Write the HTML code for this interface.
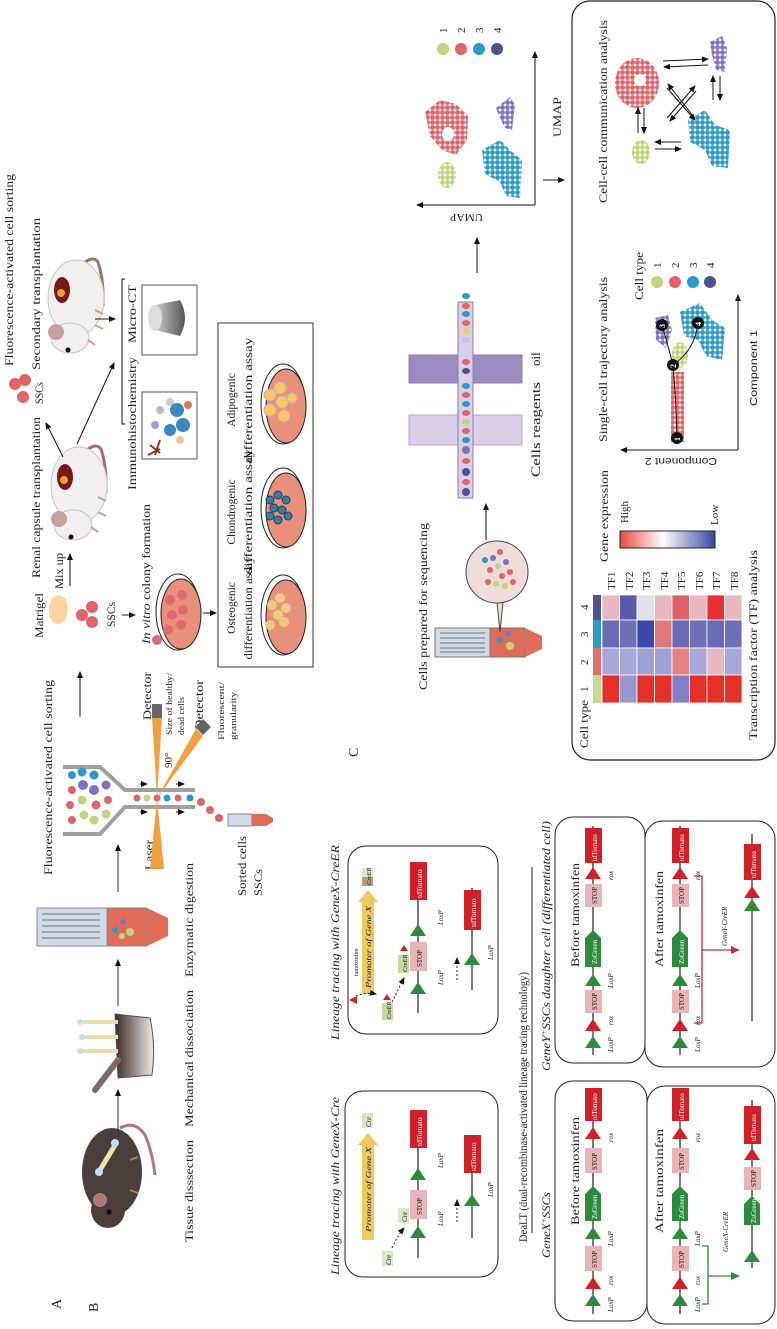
<!DOCTYPE html>
<html><head><meta charset="utf-8"><style>
html,body{margin:0;padding:0;background:#fff;}
svg{display:block;}
text{font-family:"Liberation Serif",serif;fill:#222;}
.s{font-family:"Liberation Sans",sans-serif;}
.i{font-style:italic;}
</style></head><body>
<svg width="777" height="1329" viewBox="0 0 777 1329" xmlns="http://www.w3.org/2000/svg">
<defs>
<marker id="ah" markerWidth="8" markerHeight="8" refX="6" refY="3" orient="auto" markerUnits="userSpaceOnUse"><path d="M0,0 L7,3 L0,6 Z" fill="#111"/></marker>
<marker id="ahg" markerWidth="10" markerHeight="10" refX="7" refY="4" orient="auto" markerUnits="userSpaceOnUse"><path d="M0,0 L9,4 L0,8 Z" fill="#2e8b3e"/></marker>
<marker id="ahr" markerWidth="10" markerHeight="10" refX="7" refY="4" orient="auto" markerUnits="userSpaceOnUse"><path d="M0,0 L9,4 L0,8 Z" fill="#c0303a"/></marker>
<pattern id="pr" width="5" height="5" patternUnits="userSpaceOnUse"><circle cx="2.5" cy="2.5" r="2.4" fill="#e0646a"/></pattern>
<pattern id="pb" width="5" height="5" patternUnits="userSpaceOnUse"><circle cx="2.5" cy="2.5" r="2.4" fill="#2c9ac8"/></pattern>
<pattern id="pp" width="5" height="5" patternUnits="userSpaceOnUse"><circle cx="2.5" cy="2.5" r="2.4" fill="#8070c0"/></pattern>
<pattern id="pg" width="5" height="5" patternUnits="userSpaceOnUse"><circle cx="2.5" cy="2.5" r="2.4" fill="#c2d47e"/></pattern>
<linearGradient id="cb" x1="0" x2="1" y1="0" y2="0"><stop offset="0" stop-color="#e84a3a"/><stop offset="0.45" stop-color="#fff"/><stop offset="1" stop-color="#3a48a0"/></linearGradient>
<linearGradient id="pot" x1="0" x2="1"><stop offset="0" stop-color="#3a2a26"/><stop offset="1" stop-color="#efeaea"/></linearGradient>
<linearGradient id="cyl" x1="0" x2="1"><stop offset="0" stop-color="#ccc"/><stop offset="1" stop-color="#555"/></linearGradient>
</defs>

<!-- ============ PANEL A ============ -->
<text transform="translate(61,1309) rotate(-90)" font-size="14">A</text>
<text transform="translate(13,366) rotate(-90)" font-size="12" textLength="192" lengthAdjust="spacingAndGlyphs">Fluorescence-activated cell sorting</text>
<text transform="translate(40,370) rotate(-90)" font-size="12" textLength="152" lengthAdjust="spacingAndGlyphs">Secondary transplantation</text>
<text transform="translate(43,404) rotate(-90)" font-size="12" textLength="22" lengthAdjust="spacingAndGlyphs">SSCs</text>
<text transform="translate(40,578) rotate(-90)" font-size="12" textLength="161" lengthAdjust="spacingAndGlyphs">Renal capsule transplantation</text>
<text transform="translate(43,638) rotate(-90)" font-size="12" textLength="45" lengthAdjust="spacingAndGlyphs">Matrigel</text>
<text transform="translate(63,589) rotate(-90)" font-size="12" textLength="36" lengthAdjust="spacingAndGlyphs">Mix up</text>
<text transform="translate(115,627) rotate(-90)" font-size="12" textLength="25" lengthAdjust="spacingAndGlyphs">SSCs</text>
<text transform="translate(150,644) rotate(-90)" font-size="12" textLength="140" lengthAdjust="spacingAndGlyphs"><tspan class="i">In vitro</tspan> colony formation</text>
<text transform="translate(136,490) rotate(-90)" font-size="12" textLength="133" lengthAdjust="spacingAndGlyphs">Immunohistochemistry</text>
<text transform="translate(136,343) rotate(-90)" font-size="12" textLength="58" lengthAdjust="spacingAndGlyphs">Micro-CT</text>

<!-- SSC cells top -->
<circle cx="15" cy="384" r="6" fill="#e0646a"/><circle cx="25" cy="380" r="6" fill="#e0646a"/><circle cx="23" cy="397" r="6" fill="#e0646a"/>
<!-- white mice -->
<g id="wm1">
<path d="M80,267 Q92,254 98,262 Q104,280 103,306" fill="none" stroke="#a07070" stroke-width="3"/>
<ellipse cx="76" cy="298" rx="28" ry="38" fill="#f1efef" stroke="#c8c4c4"/>
<ellipse cx="70" cy="338" rx="19" ry="15" fill="#f1efef" stroke="#c8c4c4"/>
<circle cx="56" cy="332" r="8" fill="#c9a0a0"/>
<circle cx="68" cy="350" r="2.5" fill="#111"/>
<ellipse cx="62" cy="290" rx="8" ry="13" fill="#7a1818"/><circle cx="61" cy="293" r="4" fill="#f0a030"/>
<path d="M95,310 l8,4 M95,325 l8,4 M88,340 l7,5" stroke="#c9a0a0" stroke-width="2"/>
</g>
<g transform="translate(3,187)">
<path d="M80,267 Q92,254 98,262 Q104,280 103,306" fill="none" stroke="#a07070" stroke-width="3"/>
<ellipse cx="76" cy="298" rx="28" ry="38" fill="#f1efef" stroke="#c8c4c4"/>
<ellipse cx="70" cy="338" rx="19" ry="15" fill="#f1efef" stroke="#c8c4c4"/>
<circle cx="56" cy="332" r="8" fill="#c9a0a0"/>
<circle cx="68" cy="350" r="2.5" fill="#111"/>
<ellipse cx="62" cy="290" rx="8" ry="13" fill="#7a1818"/><circle cx="61" cy="293" r="4" fill="#f0a030"/>
<path d="M95,310 l8,4 M95,325 l8,4 M88,340 l7,5" stroke="#c9a0a0" stroke-width="2"/>
</g>
<!-- arrows top panel A -->
<line x1="63" y1="457" x2="46" y2="423" stroke="#111" stroke-width="1" marker-end="url(#ah)"/>
<line x1="77" y1="444" x2="114" y2="363" stroke="#111" stroke-width="1" marker-end="url(#ah)"/>
<line x1="95" y1="319" x2="115" y2="319" stroke="#111" stroke-width="1" marker-end="url(#ah)"/>
<path d="M125,279 H122 V424 H125" fill="none" stroke="#111"/>
<line x1="70" y1="586" x2="70" y2="554" stroke="#111" marker-end="url(#ah)"/>
<line x1="122" y1="615" x2="135" y2="615" stroke="#111" marker-end="url(#ah)"/>
<line x1="203" y1="613" x2="216" y2="613" stroke="#111" marker-end="url(#ah)"/>
<line x1="80" y1="717" x2="80" y2="672" stroke="#111" marker-end="url(#ah)"/>
<!-- matrigel + SSCs -->
<path d="M52,598 Q60,592 66,600 Q70,610 65,620 Q58,628 51,620 Q46,610 52,598Z" fill="#f8d49e"/>
<circle cx="82" cy="615" r="6" fill="#e0646a"/><circle cx="92" cy="607" r="6" fill="#e0646a"/><circle cx="92" cy="622" r="6" fill="#e0646a"/>
<!-- IHC box -->
<rect x="142" y="392" width="55" height="67" fill="#fff" stroke="#555"/>
<circle cx="160" cy="410" r="4" fill="#bbb"/><circle cx="170" cy="402" r="4" fill="#ccc"/><circle cx="155" cy="425" r="4" fill="#9aa0d8"/>
<circle cx="177" cy="410" r="7" fill="#3a88c0"/><circle cx="183" cy="425" r="7" fill="#3a88c0"/><circle cx="170" cy="430" r="6" fill="#3a88c0"/>
<circle cx="188" cy="405" r="4" fill="#e07060"/><circle cx="180" cy="440" r="4" fill="#f0c890"/>
<path d="M150,445 l10,8 M148,455 l12,-6 M160,440 l-5,15" stroke="#8b3a20" stroke-width="2"/>
<!-- micro-CT -->
<rect x="142" y="285" width="55" height="70" fill="#fff" stroke="#555"/>
<path d="M155,305 L180,300 Q190,318 180,336 L155,330 Z" fill="url(#cyl)"/>
<ellipse cx="155" cy="318" rx="7" ry="13" fill="#ddd"/>
<!-- colony dish -->
<ellipse cx="178" cy="612" rx="22" ry="38" fill="#fff" stroke="#222"/>
<ellipse cx="181" cy="614" rx="20" ry="35" fill="#e8907a" stroke="#222"/>
<g fill="#e06a70"><circle cx="170" cy="600" r="5"/><circle cx="172" cy="615" r="5"/><circle cx="168" cy="630" r="5"/><circle cx="182" cy="595" r="5"/><circle cx="183" cy="610" r="5"/><circle cx="181" cy="625" r="5"/><circle cx="157" cy="640" r="5"/></g>
<!-- diff box -->
<rect x="218" y="323" width="95" height="344" fill="#fff" stroke="#333"/>
<text transform="translate(235,608) rotate(-90)" font-size="11.5" text-anchor="middle">Osteogenic</text>
<text transform="translate(252,608) rotate(-90)" font-size="11.5" text-anchor="middle" textLength="103" lengthAdjust="spacingAndGlyphs">differentiation assay</text>
<text transform="translate(235,512) rotate(-90)" font-size="11.5" text-anchor="middle">Chondrogenic</text>
<text transform="translate(252,512) rotate(-90)" font-size="11.5" text-anchor="middle" textLength="125" lengthAdjust="spacingAndGlyphs">differentiation assay</text>
<text transform="translate(235,400) rotate(-90)" font-size="11.5" text-anchor="middle">Adipogenic</text>
<text transform="translate(252,400) rotate(-90)" font-size="11.5" text-anchor="middle" textLength="125" lengthAdjust="spacingAndGlyphs">differentiation assay</text>
<g stroke="#222">
<ellipse cx="283" cy="615" rx="22" ry="40" fill="#fff"/><ellipse cx="286" cy="617" rx="20" ry="37" fill="#e8907a"/>
<ellipse cx="283" cy="508" rx="22" ry="40" fill="#fff"/><ellipse cx="286" cy="510" rx="20" ry="37" fill="#e8907a"/>
<ellipse cx="283" cy="404" rx="22" ry="40" fill="#fff"/><ellipse cx="286" cy="406" rx="20" ry="37" fill="#e8907a"/>
</g>
<g fill="#f0c880"><circle cx="272" cy="605" r="5"/><circle cx="280" cy="598" r="5"/><circle cx="278" cy="615" r="5"/><circle cx="286" cy="608" r="5"/><circle cx="270" cy="625" r="5"/><circle cx="284" cy="622" r="5"/></g>
<g fill="#3a7ab0" stroke="#244"><circle cx="270" cy="500" r="4"/><circle cx="278" cy="495" r="4"/><circle cx="286" cy="500" r="4"/><circle cx="274" cy="508" r="4"/><circle cx="282" cy="510" r="4"/><circle cx="270" cy="516" r="4"/><circle cx="278" cy="520" r="4"/><circle cx="288" cy="516" r="4"/></g>
<g fill="#f2c860" stroke="#e0a0c0"><circle cx="270" cy="395" r="6"/><circle cx="280" cy="388" r="6"/><circle cx="282" cy="402" r="6"/><circle cx="270" cy="410" r="6"/><circle cx="284" cy="416" r="6"/><circle cx="292" cy="398" r="5"/></g>

<!-- lower A -->
<text transform="translate(52,875) rotate(-90)" font-size="12" textLength="195" lengthAdjust="spacingAndGlyphs">Fluorescence-activated cell sorting</text>
<text transform="translate(193,1242) rotate(-90)" font-size="12" textLength="102" lengthAdjust="spacingAndGlyphs">Tissue disssection</text>
<text transform="translate(193,1127) rotate(-90)" font-size="12" textLength="137" lengthAdjust="spacingAndGlyphs">Mechanical dissociation</text>
<text transform="translate(193,977) rotate(-90)" font-size="12" textLength="114" lengthAdjust="spacingAndGlyphs">Enzymatic digestion</text>
<text transform="translate(153,870) rotate(-90)" font-size="12" textLength="30" lengthAdjust="spacingAndGlyphs">Laser</text>
<text transform="translate(151,720) rotate(-90)" font-size="12" textLength="48" lengthAdjust="spacingAndGlyphs">Detector</text>
<text transform="translate(203,730) rotate(-90)" font-size="12" textLength="50" lengthAdjust="spacingAndGlyphs">Detector</text>
<text transform="translate(172,735) rotate(-90)" font-size="8" textLength="62" lengthAdjust="spacingAndGlyphs">Size of healthy/</text>
<text transform="translate(184,735) rotate(-90)" font-size="8" textLength="38" lengthAdjust="spacingAndGlyphs">dead cells</text>
<text transform="translate(224,740) rotate(-90)" font-size="8" textLength="58" lengthAdjust="spacingAndGlyphs">Fluorescent/</text>
<text transform="translate(236,740) rotate(-90)" font-size="8" textLength="48" lengthAdjust="spacingAndGlyphs">granularity</text>
<text transform="translate(172,768) rotate(-90)" font-size="11">90°</text>
<text transform="translate(246,896) rotate(-90)" font-size="12" textLength="60" lengthAdjust="spacingAndGlyphs">Sorted cells</text>
<text transform="translate(262,896) rotate(-90)" font-size="12" textLength="27" lengthAdjust="spacingAndGlyphs">SSCs</text>
<!-- dark mouse -->
<path d="M120,1128 Q135,1120 145,1135 Q152,1150 155,1175" fill="none" stroke="#b07a7a" stroke-width="3"/>
<ellipse cx="112" cy="1172" rx="30" ry="44" fill="#4a3f3c"/>
<ellipse cx="108" cy="1210" rx="17" ry="18" fill="#4a3f3c"/>
<circle cx="100" cy="1200" r="7" fill="#b07a7a"/>
<circle cx="109" cy="1212" r="2.5" fill="#000"/>
<line x1="100" y1="1170" x2="115" y2="1145" stroke="#efe0b0" stroke-width="5"/>
<circle cx="115" cy="1143" r="4" fill="#bfe0f0"/><circle cx="99" cy="1172" r="4" fill="#bfe0f0"/>
<path d="M130,1160 l8,-3 M130,1190 l8,3" stroke="#b07a7a" stroke-width="2"/>
<line x1="118" y1="1137" x2="118" y2="1090" stroke="#333" marker-end="url(#ah)"/>
<!-- pot -->
<path d="M115,1014 L150,1018 Q156,1045 152,1075 L118,1078 Z" fill="url(#pot)" stroke="#555"/>
<path d="M118,1060 L95,1090" stroke="#7a6a68" stroke-width="6" stroke-linecap="round"/>
<g stroke="#ebdcae" stroke-width="4"><line x1="80" y1="1022" x2="118" y2="1022"/><line x1="82" y1="1037" x2="118" y2="1037"/><line x1="80" y1="1051" x2="118" y2="1051"/></g>
<g fill="#bfe0f0"><circle cx="80" cy="1022" r="3"/><circle cx="82" cy="1037" r="3"/><circle cx="80" cy="1051" r="3"/></g>
<line x1="118" y1="1006" x2="118" y2="960" stroke="#333" marker-end="url(#ah)"/>
<!-- tube -->
<rect x="37" y="908" width="70" height="38" fill="#cfdbe6" stroke="#888"/>
<rect x="107" y="908" width="40" height="38" fill="#e06c58" stroke="#888"/>
<path d="M147,908 L168,918 L168,936 L147,946 Z" fill="#e06c58"/>
<g stroke="#555" stroke-width="0.8"><line x1="42" y1="914" x2="100" y2="914"/><line x1="42" y1="920" x2="100" y2="920"/><line x1="42" y1="926" x2="100" y2="926"/><line x1="42" y1="932" x2="100" y2="932"/><line x1="42" y1="938" x2="100" y2="938"/></g>
<circle cx="115" cy="930" r="3" fill="#2c9ac8"/><circle cx="123" cy="922" r="3" fill="#8070c0"/><circle cx="130" cy="932" r="4" fill="#c2d47e"/><circle cx="122" cy="936" r="3" fill="#c2d47e"/>
<line x1="118" y1="892" x2="118" y2="845" stroke="#333" marker-end="url(#ah)"/>
<!-- FACS -->
<path d="M63,767 H100 L125,790 H195 M63,834 H100 L125,807 H195" fill="none" stroke="#a0a0a0" stroke-width="4"/>
<g>
<circle cx="72" cy="775" r="4" fill="#2c9ac8"/><circle cx="72" cy="790" r="4" fill="#e0646a"/><circle cx="70" cy="805" r="4" fill="#e0646a"/><circle cx="72" cy="820" r="4" fill="#e0646a"/>
<circle cx="82" cy="772" r="4.5" fill="#2c9ac8"/><circle cx="83" cy="785" r="5" fill="#8070c0"/><circle cx="82" cy="800" r="4.5" fill="#c2d47e"/><circle cx="84" cy="815" r="4.5" fill="#c2d47e"/>
<circle cx="94" cy="775" r="4.5" fill="#2c9ac8"/><circle cx="94" cy="790" r="5" fill="#8070c0"/><circle cx="96" cy="805" r="4.5" fill="#e0646a"/><circle cx="94" cy="820" r="4.5" fill="#c2d47e"/>
<circle cx="106" cy="785" r="4.5" fill="#8070c0"/><circle cx="108" cy="800" r="4" fill="#e0646a"/><circle cx="106" cy="814" r="4.5" fill="#c2d47e"/>
</g>
<g><circle cx="137" cy="798" r="3.5" fill="#e0646a"/><circle cx="147" cy="798" r="3.5" fill="#c2d47e"/><circle cx="157" cy="798" r="3.5" fill="#e0646a"/><circle cx="167" cy="798" r="3.5" fill="#2c9ac8"/><circle cx="178" cy="798" r="3.5" fill="#e0646a"/><circle cx="190" cy="798" r="3.5" fill="#2c9ac8"/></g>
<path d="M150,869 L164,869 L157,798 Z" fill="#f0a040"/>
<path d="M157,798 L152,717 L162,717 Z" fill="#f0a040"/>
<path d="M157,798 L196,729 L203,736 Z" fill="#f0a040"/>
<rect x="152" y="704" width="10" height="14" fill="#666"/>
<path d="M195,727 l8,-8 l8,8 l-8,8z" fill="#666"/>
<g stroke="#111" marker-end="url(#ah)"><line x1="140" y1="784" x2="147" y2="784"/><line x1="140" y1="812" x2="147" y2="812"/><line x1="176" y1="784" x2="184" y2="784"/><line x1="176" y1="812" x2="184" y2="812"/></g>
<circle cx="201" cy="802" r="4" fill="#e0646a"/><circle cx="210" cy="810" r="4" fill="#e0646a"/><circle cx="219" cy="818" r="4" fill="#e0646a"/>
<rect x="228" y="814" width="24" height="12" fill="#cfdbe6" stroke="#888"/><rect x="252" y="814" width="14" height="12" fill="#e06c58"/><path d="M266,814 L273,818 L273,822 L266,826Z" fill="#e06c58"/>

<!-- ============ PANEL B ============ -->
<text transform="translate(98,1312) rotate(-90)" font-size="14">B</text>
<text transform="translate(358,757) rotate(-90)" font-size="14">C</text>
<text class="i" transform="translate(339,1275) rotate(-90)" font-size="12" textLength="178" lengthAdjust="spacingAndGlyphs">Lineage tracing with GeneX-Cre</text>
<text class="i" transform="translate(339,1040) rotate(-90)" font-size="12" textLength="195" lengthAdjust="spacingAndGlyphs">Lineage tracing with GeneX-CreER</text>
<rect x="345" y="1091" width="153" height="186" rx="18" fill="none" stroke="#222"/>
<rect x="348" y="846" width="150" height="188" rx="18" fill="none" stroke="#222"/>
<!-- box1 -->
<path d="M362,1240 V1145 H358 L368,1133 L378,1145 H374 V1240 Z" fill="#f0c860"/>
<text class="i" transform="translate(371,1232) rotate(-90)" font-size="7" textLength="85" lengthAdjust="spacingAndGlyphs">Promoter of Gene X</text>
<rect x="362" y="1113" width="11" height="15" fill="#d8e8c8"/><text class="i" transform="translate(371,1127) rotate(-90)" font-size="7">Cre</text>
<rect x="382" y="1251" width="11" height="15" fill="#d8e8c8"/><text class="i" transform="translate(391,1265) rotate(-90)" font-size="7">Cre</text>
<rect x="398" y="1208" width="11" height="15" fill="#d8e8c8"/><text class="i" transform="translate(407,1222) rotate(-90)" font-size="7">Cre</text>
<path d="M392,1248 Q398,1235 404,1228" fill="none" stroke="#222" stroke-dasharray="2,2" marker-end="url(#ah)"/>
<line x1="418" y1="1258" x2="418" y2="1110" stroke="#333" stroke-width="1.3"/>
<path d="M410,1238 L426,1238 L418,1226Z M410,1180 L426,1180 L418,1168Z" fill="#2e8b3e"/>
<rect x="410" y="1190" width="17" height="29" fill="#e8b4b8"/><text transform="translate(422,1215) rotate(-90)" font-size="7">STOP</text>
<rect x="410" y="1110" width="17" height="38" fill="#d0202a"/><text transform="translate(422,1146) rotate(-90)" font-size="7.5" fill="#fff" style="fill:#fff">tdTomato</text>
<text class="i" transform="translate(443,1226) rotate(-90)" font-size="7">LoxP</text>
<text class="i" transform="translate(443,1168) rotate(-90)" font-size="7">LoxP</text>
<line x1="457" y1="1222" x2="457" y2="1200" stroke="#222" stroke-dasharray="2,2" marker-end="url(#ah)"/>
<line x1="472" y1="1238" x2="472" y2="1135" stroke="#333" stroke-width="1.3"/>
<path d="M464,1206 L480,1206 L472,1194Z" fill="#2e8b3e"/>
<rect x="464" y="1135" width="17" height="38" fill="#d0202a"/><text transform="translate(476,1171) rotate(-90)" font-size="7.5" style="fill:#fff">tdTomato</text>
<text class="i" transform="translate(493,1197) rotate(-90)" font-size="7">LoxP</text>
<!-- box2 -->
<path d="M362,994 V902 H358 L368,890 L378,902 H374 V994 Z" fill="#f0c860"/>
<text class="i" transform="translate(371,988) rotate(-90)" font-size="7" textLength="82" lengthAdjust="spacingAndGlyphs">Promoter of Gene X</text>
<text transform="translate(358,976) rotate(-90)" font-size="6">tamoxinfen</text>
<rect x="362" y="868" width="11" height="9" fill="#d8e8c8"/><rect x="362" y="877" width="11" height="9" fill="#b89880"/><text class="i" transform="translate(371,885) rotate(-90)" font-size="6.5">CreER</text>
<path d="M349,1000 l8,-4 l0,8z" fill="#d0202a"/>
<path d="M356,996 Q366,992 376,994" fill="none" stroke="#222" stroke-dasharray="2,2" marker-end="url(#ah)"/>
<rect x="382" y="1003" width="11" height="17" fill="#c8d8a0"/><text class="i" transform="translate(391,1019) rotate(-90)" font-size="6.5">CreER</text>
<path d="M383,1000 l8,0 l-4,-6z" fill="#d0202a"/>
<rect x="398" y="955" width="11" height="18" fill="#c8d8a0"/><text class="i" transform="translate(407,972) rotate(-90)" font-size="6.5">CreER</text>
<path d="M400,951 l8,0 l-4,-6z" fill="#d0202a"/>
<path d="M392,1002 Q398,990 404,978" fill="none" stroke="#222" stroke-dasharray="2,2" marker-end="url(#ah)"/>
<line x1="418" y1="1013" x2="418" y2="862" stroke="#333" stroke-width="1.3"/>
<path d="M410,994 L426,994 L418,982Z M410,936 L426,936 L418,924Z" fill="#2e8b3e"/>
<rect x="410" y="942" width="17" height="29" fill="#e8b4b8"/><text transform="translate(422,967) rotate(-90)" font-size="7">STOP</text>
<rect x="410" y="862" width="17" height="38" fill="#d0202a"/><text transform="translate(422,898) rotate(-90)" font-size="7.5" style="fill:#fff">tdTomato</text>
<text class="i" transform="translate(443,985) rotate(-90)" font-size="7">LoxP</text>
<text class="i" transform="translate(443,925) rotate(-90)" font-size="7">LoxP</text>
<line x1="457" y1="980" x2="457" y2="958" stroke="#222" stroke-dasharray="2,2" marker-end="url(#ah)"/>
<line x1="472" y1="990" x2="472" y2="888" stroke="#333" stroke-width="1.3"/>
<path d="M464,965 L480,965 L472,953Z" fill="#2e8b3e"/>
<rect x="464" y="890" width="17" height="40" fill="#d0202a"/><text transform="translate(476,927) rotate(-90)" font-size="7.5" style="fill:#fff">tdTomato</text>
<text class="i" transform="translate(493,960) rotate(-90)" font-size="7">LoxP</text>

<!-- DeaLT -->
<text transform="translate(527,1242) rotate(-90)" font-size="12" textLength="270" lengthAdjust="spacingAndGlyphs">DeaLT (dual-recombinase-activated lineage tracing technology)</text>
<line x1="532" y1="867" x2="532" y2="1233" stroke="#222"/>
<text class="i" transform="translate(550,1258) rotate(-90)" font-size="11.5" textLength="66" lengthAdjust="spacingAndGlyphs">GeneX<tspan font-size="7" dy="-4">+</tspan><tspan dy="4">SSCs</tspan></text>
<text class="i" transform="translate(550,1071) rotate(-90)" font-size="11.5" textLength="250" lengthAdjust="spacingAndGlyphs">GeneY<tspan font-size="7" dy="-4">+</tspan><tspan dy="4">SSCs daughter cell (differentiated cell)</tspan></text>
<rect x="555" y="1081" width="92" height="240" rx="18" fill="none" stroke="#222"/>
<rect x="647" y="1086" width="128" height="238" rx="18" fill="none" stroke="#222"/>
<rect x="555" y="817" width="90" height="246" rx="18" fill="none" stroke="#222"/>
<rect x="645" y="821" width="130" height="246" rx="18" fill="none" stroke="#222"/>
<text transform="translate(579,1225) rotate(-90)" font-size="12" textLength="108" lengthAdjust="spacingAndGlyphs">Before tamoxinfen</text>
<text transform="translate(579,967) rotate(-90)" font-size="12" textLength="104" lengthAdjust="spacingAndGlyphs">Before tamoxinfen</text>
<text transform="translate(663,1233) rotate(-90)" font-size="12" textLength="104" lengthAdjust="spacingAndGlyphs">After tamoxinfen</text>
<text transform="translate(663,967) rotate(-90)" font-size="12" textLength="96" lengthAdjust="spacingAndGlyphs">After tamoxinfen</text>

<!-- full construct, left boxes: lines x=593 and 680 -->
<g id="cL">
<line x1="593" y1="1314" x2="593" y2="1088" stroke="#333" stroke-width="1.3"/>
<path d="M585,1306 L601,1306 L593,1294Z" fill="#2e8b3e"/>
<path d="M585,1289 L601,1289 L593,1277Z" fill="#d0202a"/>
<rect x="585" y="1246" width="17" height="25" fill="#e8b4b8"/>
<path d="M585,1239 L601,1239 L593,1227Z" fill="#2e8b3e"/>
<path d="M585,1221 V1194 L593,1186 L601,1194 V1221Z" fill="#2e8b3e"/>
<rect x="585" y="1148" width="17" height="25" fill="#e8b4b8"/>
<path d="M585,1139 L601,1139 L593,1127Z" fill="#d0202a"/>
<rect x="585" y="1088" width="17" height="33" fill="#d0202a"/>
</g>
<text transform="translate(597,1268) rotate(-90)" font-size="7">STOP</text>
<text transform="translate(597,1219) rotate(-90)" font-size="7" style="fill:#fff">ZsGreen</text>
<text transform="translate(597,1170) rotate(-90)" font-size="7">STOP</text>
<text transform="translate(597,1120) rotate(-90)" font-size="7" style="fill:#fff">tdTomato</text>
<text class="i" transform="translate(613,1312) rotate(-90)" font-size="7">LoxP</text>
<text class="i" transform="translate(613,1285) rotate(-90)" font-size="7">rox</text>
<text class="i" transform="translate(613,1246) rotate(-90)" font-size="7">LoxP</text>
<text class="i" transform="translate(613,1142) rotate(-90)" font-size="7">rox</text>

<g transform="translate(87,0)">
<line x1="593" y1="1314" x2="593" y2="1088" stroke="#333" stroke-width="1.3"/>
<path d="M585,1306 L601,1306 L593,1294Z" fill="#2e8b3e"/>
<path d="M585,1289 L601,1289 L593,1277Z" fill="#d0202a"/>
<rect x="585" y="1246" width="17" height="25" fill="#e8b4b8"/>
<path d="M585,1239 L601,1239 L593,1227Z" fill="#2e8b3e"/>
<path d="M585,1221 V1194 L593,1186 L601,1194 V1221Z" fill="#2e8b3e"/>
<rect x="585" y="1148" width="17" height="25" fill="#e8b4b8"/>
<path d="M585,1139 L601,1139 L593,1127Z" fill="#d0202a"/>
<rect x="585" y="1088" width="17" height="33" fill="#d0202a"/>
</g>
<text transform="translate(684,1268) rotate(-90)" font-size="7">STOP</text>
<text transform="translate(684,1219) rotate(-90)" font-size="7" style="fill:#fff">ZsGreen</text>
<text transform="translate(684,1170) rotate(-90)" font-size="7">STOP</text>
<text transform="translate(684,1120) rotate(-90)" font-size="7" style="fill:#fff">tdTomato</text>
<text class="i" transform="translate(700,1312) rotate(-90)" font-size="7">LoxP</text>
<text class="i" transform="translate(700,1285) rotate(-90)" font-size="7">rox</text>
<text class="i" transform="translate(700,1246) rotate(-90)" font-size="7">LoxP</text>
<text class="i" transform="translate(700,1142) rotate(-90)" font-size="7">rox</text>
<path d="M702,1246 H708 V1304 H702 M708,1276 H738" fill="none" stroke="#2e8b3e" stroke-width="1.3" marker-end="url(#ahg)"/>
<text class="i" transform="translate(728,1252) rotate(-90)" font-size="7">GeneX-CreER</text>
<!-- after left line2 -->
<line x1="752" y1="1268" x2="752" y2="1100" stroke="#333" stroke-width="1.3"/>
<path d="M744,1262 L760,1262 L752,1250Z" fill="#2e8b3e"/>
<path d="M744,1225 V1204 L752,1196 L760,1204 V1225Z" fill="#2e8b3e"/>
<rect x="744" y="1167" width="17" height="23" fill="#e8b4b8"/>
<path d="M744,1160 L760,1160 L752,1148Z" fill="#d0202a"/>
<rect x="744" y="1106" width="17" height="38" fill="#d0202a"/>
<text transform="translate(756,1223) rotate(-90)" font-size="7" style="fill:#fff">ZsGreen</text>
<text transform="translate(756,1187) rotate(-90)" font-size="7">STOP</text>
<text transform="translate(756,1141) rotate(-90)" font-size="7" style="fill:#fff">tdTomato</text>

<!-- right boxes constructs -->
<g>
<line x1="593" y1="1055" x2="593" y2="826" stroke="#333" stroke-width="1.3"/>
<path d="M585,1048 L601,1048 L593,1036Z" fill="#2e8b3e"/>
<path d="M585,1031 L601,1031 L593,1019Z" fill="#d0202a"/>
<rect x="585" y="990" width="17" height="23" fill="#e8b4b8"/>
<path d="M585,986 L601,986 L593,974Z" fill="#2e8b3e"/>
<path d="M585,967 V938 L593,930 L601,938 V967Z" fill="#2e8b3e"/>
<rect x="585" y="884" width="17" height="23" fill="#e8b4b8"/>
<path d="M585,879 L601,879 L593,867Z" fill="#d0202a"/>
<rect x="585" y="828" width="17" height="35" fill="#d0202a"/>
</g>
<text transform="translate(597,1010) rotate(-90)" font-size="7">STOP</text>
<text transform="translate(597,964) rotate(-90)" font-size="7" style="fill:#fff">ZsGreen</text>
<text transform="translate(597,904) rotate(-90)" font-size="7">STOP</text>
<text transform="translate(597,861) rotate(-90)" font-size="7" style="fill:#fff">tdTomato</text>
<text class="i" transform="translate(613,1052) rotate(-90)" font-size="7">LoxP</text>
<text class="i" transform="translate(613,1025) rotate(-90)" font-size="7">rox</text>
<text class="i" transform="translate(613,988) rotate(-90)" font-size="7">LoxP</text>
<text class="i" transform="translate(613,880) rotate(-90)" font-size="7">rox</text>
<g transform="translate(87,0)">
<line x1="593" y1="1055" x2="593" y2="826" stroke="#333" stroke-width="1.3"/>
<path d="M585,1048 L601,1048 L593,1036Z" fill="#2e8b3e"/>
<path d="M585,1031 L601,1031 L593,1019Z" fill="#d0202a"/>
<rect x="585" y="990" width="17" height="23" fill="#e8b4b8"/>
<path d="M585,986 L601,986 L593,974Z" fill="#2e8b3e"/>
<path d="M585,967 V938 L593,930 L601,938 V967Z" fill="#2e8b3e"/>
<rect x="585" y="884" width="17" height="23" fill="#e8b4b8"/>
<path d="M585,879 L601,879 L593,867Z" fill="#d0202a"/>
<rect x="585" y="828" width="17" height="35" fill="#d0202a"/>
</g>
<text transform="translate(684,1010) rotate(-90)" font-size="7">STOP</text>
<text transform="translate(684,964) rotate(-90)" font-size="7" style="fill:#fff">ZsGreen</text>
<text transform="translate(684,904) rotate(-90)" font-size="7">STOP</text>
<text transform="translate(684,861) rotate(-90)" font-size="7" style="fill:#fff">tdTomato</text>
<text class="i" transform="translate(700,1052) rotate(-90)" font-size="7">LoxP</text>
<text class="i" transform="translate(700,1025) rotate(-90)" font-size="7">rox</text>
<text class="i" transform="translate(700,988) rotate(-90)" font-size="7">LoxP</text>
<text class="i" transform="translate(700,880) rotate(-90)" font-size="7">rox</text>
<path d="M694,876 H702 V1023 H694 M702,950 H738" fill="none" stroke="#c0303a" stroke-width="1.3" marker-end="url(#ahr)"/>
<text class="i" transform="translate(727,946) rotate(-90)" font-size="7">GeneY-CreER</text>
<line x1="752" y1="1021" x2="752" y2="834" stroke="#333" stroke-width="1.3"/>
<path d="M744,911 L760,911 L752,899Z" fill="#2e8b3e"/>
<path d="M744,898 L760,898 L752,886Z" fill="#d0202a"/>
<rect x="744" y="844" width="17" height="36" fill="#d0202a"/>
<text transform="translate(756,878) rotate(-90)" font-size="7" style="fill:#fff">tdTomato</text>

<!-- ============ PANEL C ============ -->
<text transform="translate(427,690) rotate(-90)" font-size="12" textLength="167" lengthAdjust="spacingAndGlyphs">Cells prepared for sequencing</text>
<rect x="435" y="628" width="55" height="29" fill="#cfdbe6" stroke="#777"/>
<rect x="490" y="628" width="35" height="29" fill="#e06c58" stroke="#777"/>
<path d="M525,628 L542,636 L542,649 L525,657Z" fill="#e06c58"/>
<g stroke="#555" stroke-width="0.8"><line x1="440" y1="633" x2="485" y2="633"/><line x1="440" y1="638" x2="485" y2="638"/><line x1="440" y1="643" x2="485" y2="643"/><line x1="440" y1="648" x2="485" y2="648"/><line x1="440" y1="652" x2="485" y2="652"/></g>
<circle cx="500" cy="640" r="3" fill="#2c9ac8"/><circle cx="508" cy="634" r="3" fill="#8070c0"/><circle cx="510" cy="646" r="4" fill="#c2d47e"/>
<path d="M497,602 L500,632 L503,602" fill="#f1dcdc" stroke="#444"/>
<circle cx="497" cy="572" r="31" fill="#f1dcdc" stroke="#444"/>
<g><circle cx="485" cy="560" r="3" fill="#2c9ac8"/><circle cx="490" cy="570" r="3" fill="#e0646a"/><circle cx="493" cy="558" r="3" fill="#8070c0"/><circle cx="498" cy="566" r="3" fill="#c2d47e"/><circle cx="502" cy="576" r="3" fill="#e0646a"/><circle cx="506" cy="562" r="3" fill="#8070c0"/><circle cx="510" cy="572" r="3" fill="#e0646a"/><circle cx="496" cy="584" r="3" fill="#c2d47e"/><circle cx="488" cy="582" r="3" fill="#e0646a"/><circle cx="505" cy="586" r="3" fill="#c2d47e"/><circle cx="513" cy="582" r="3" fill="#e0646a"/><circle cx="500" cy="552" r="3" fill="#e0646a"/></g>
<line x1="486" y1="540" x2="486" y2="504" stroke="#111" marker-end="url(#ah)"/>
<!-- microfluidic -->
<rect x="409" y="415" width="113" height="30" fill="#d9cfe6" stroke="#b8a8cc"/>
<rect x="409" y="355" width="113" height="28" fill="#9a8cc0" stroke="#8a7ab0"/>
<rect x="458" y="302" width="15" height="196" fill="#d9cfe6" stroke="#8a7ab0"/>
<g>
<ellipse cx="466" cy="296" rx="4" ry="3" fill="#2c9ac8"/><ellipse cx="466" cy="306" rx="4" ry="3" fill="#e0646a"/><ellipse cx="466" cy="314" rx="4" ry="3" fill="#2c9ac8"/><ellipse cx="466" cy="323" rx="4" ry="3" fill="#e0646a"/><ellipse cx="466" cy="331" rx="4" ry="3" fill="#f0d060"/><ellipse cx="466" cy="340" rx="4" ry="3" fill="#b8c8e8"/><ellipse cx="466" cy="362" rx="4" ry="3" fill="#e0646a"/><ellipse cx="466" cy="371" rx="4" ry="3" fill="#4a5590"/><ellipse cx="466" cy="386" rx="4" ry="3" fill="#2c9ac8"/><ellipse cx="466" cy="395" rx="4" ry="3" fill="#e0646a"/><ellipse cx="466" cy="404" rx="4" ry="3" fill="#2c9ac8"/><ellipse cx="466" cy="413" rx="4" ry="3" fill="#e0646a"/><ellipse cx="466" cy="422" rx="4" ry="3" fill="#c2d47e"/><ellipse cx="466" cy="431" rx="4" ry="3" fill="#e0646a"/><ellipse cx="466" cy="440" rx="4" ry="3" fill="#2c9ac8"/><ellipse cx="466" cy="450" rx="4" ry="4" fill="#8070c0"/><ellipse cx="466" cy="461" rx="4" ry="3" fill="#e0646a"/><ellipse cx="466" cy="472" rx="4" ry="4" fill="#4a5590"/><ellipse cx="466" cy="482" rx="4" ry="3" fill="#e0646a"/><ellipse cx="466" cy="492" rx="4" ry="4" fill="#4a5590"/>
</g>
<text transform="translate(540,477) rotate(-90)" font-size="13" textLength="95" lengthAdjust="spacingAndGlyphs">Cells reagents</text>
<text transform="translate(540,366) rotate(-90)" font-size="13">oil</text>
<line x1="477" y1="273" x2="477" y2="238" stroke="#111" marker-end="url(#ah)"/>
<!-- UMAP -->
<g stroke="#111" fill="none"><line x1="535" y1="205" x2="535" y2="52" marker-end="url(#ah)"/><line x1="535" y1="205" x2="417" y2="205" marker-end="url(#ah)"/></g>
<text transform="translate(561,137) rotate(-90)" font-size="12" textLength="40" lengthAdjust="spacingAndGlyphs">UMAP</text>
<text transform="translate(483,214) rotate(180)" font-size="11" textLength="33" lengthAdjust="spacingAndGlyphs">UMAP</text>
<path d="M425,112 L440,100 L456,104 L468,116 L467,140 L456,155 L442,150 L430,136 Z" fill="url(#pr)"/>
<ellipse cx="448" cy="134" rx="6" ry="7" fill="#fff"/>
<ellipse cx="447" cy="175" rx="9" ry="13" fill="url(#pg)"/>
<path d="M482,150 L500,140 L512,152 L522,160 L520,198 L506,196 L500,182 L485,174 Z" fill="url(#pb)"/>
<path d="M496,108 L510,97 L515,105 L512,130 L505,128 L500,118 Z" fill="url(#pp)"/>
<circle cx="443" cy="49" r="6" fill="#c2d47e"/><circle cx="461" cy="49" r="6" fill="#e0646a"/><circle cx="479" cy="49" r="6" fill="#2c9ac8"/><circle cx="497" cy="49" r="6" fill="#4a5590"/>
<text transform="translate(447,33) rotate(-90)" font-size="11">1</text><text transform="translate(465,33) rotate(-90)" font-size="11">2</text><text transform="translate(483,33) rotate(-90)" font-size="11">3</text><text transform="translate(501,33) rotate(-90)" font-size="11">4</text>
<line x1="543" y1="180" x2="564" y2="180" stroke="#111" marker-end="url(#ah)"/>
<!-- box C -->
<rect x="572" y="1" width="203" height="759" rx="18" fill="none" stroke="#222" stroke-width="1.2"/>
<text transform="translate(607,203) rotate(-90)" font-size="12" textLength="183" lengthAdjust="spacingAndGlyphs">Cell-cell communication analysis</text>
<ellipse cx="637" cy="83" rx="22" ry="25" fill="url(#pr)"/>
<ellipse cx="640" cy="80" rx="6" ry="6" fill="#fff"/>
<path d="M710,42 L722,36 L727,48 L725,72 L716,70 L712,55 Z" fill="url(#pp)"/>
<path d="M688,120 L705,110 L715,125 L730,130 L728,168 L712,166 L705,150 L690,142 Z" fill="url(#pb)"/>
<ellipse cx="641" cy="152" rx="9" ry="12" fill="url(#pg)"/>
<g stroke="#111" marker-end="url(#ah)">
<line x1="663" y1="61" x2="708" y2="59"/><line x1="708" y1="65" x2="664" y2="67"/>
<line x1="638" y1="133" x2="638" y2="108"/><line x1="644" y1="108" x2="644" y2="133"/>
<line x1="713" y1="100" x2="713" y2="76"/><line x1="720" y1="76" x2="720" y2="100"/>
<line x1="681" y1="142" x2="655" y2="142"/><line x1="655" y1="149" x2="681" y2="149"/>
<line x1="667" y1="88" x2="695" y2="120"/><line x1="693" y1="116" x2="668" y2="84"/>
<line x1="667" y1="118" x2="695" y2="86"/><line x1="696" y1="91" x2="670" y2="121"/>
</g>
<!-- trajectory -->
<text transform="translate(607,442) rotate(-90)" font-size="12" textLength="165" lengthAdjust="spacingAndGlyphs">Single-cell trajectory analysis</text>
<text transform="translate(643,300) rotate(-90)" font-size="12" textLength="48" lengthAdjust="spacingAndGlyphs">Cell type</text>
<circle cx="657" cy="282" r="6" fill="#c2d47e"/><circle cx="675" cy="282" r="6" fill="#e0646a"/><circle cx="693" cy="282" r="6" fill="#2c9ac8"/><circle cx="710" cy="282" r="6" fill="#4a5590"/>
<text transform="translate(661,268) rotate(-90)" font-size="11">1</text><text transform="translate(679,268) rotate(-90)" font-size="11">2</text><text transform="translate(697,268) rotate(-90)" font-size="11">3</text><text transform="translate(714,268) rotate(-90)" font-size="11">4</text>
<g stroke="#111" fill="none"><line x1="738" y1="450" x2="738" y2="295" marker-end="url(#ah)"/><line x1="738" y1="450" x2="621" y2="450" marker-end="url(#ah)"/></g>
<text class="s" transform="translate(757,406) rotate(-90)" font-size="10" textLength="76" lengthAdjust="spacingAndGlyphs">Component 1</text>
<text class="s" transform="translate(717,458) rotate(180)" font-size="10" textLength="72" lengthAdjust="spacingAndGlyphs">Component 2</text>
<rect x="671" y="372" width="13" height="70" fill="url(#pr)"/>
<ellipse cx="680" cy="355" rx="8" ry="13" fill="url(#pg)"/>
<path d="M655,318 L668,315 L672,330 L666,348 L656,340 Z" fill="url(#pp)"/>
<path d="M680,312 L700,303 L712,320 L725,328 L722,360 L706,356 L698,340 L684,336 Z" fill="url(#pb)"/>
<path d="M677,438 Q676,400 673,365 Q668,345 662,325 M673,365 Q695,350 698,323" fill="none" stroke="#111" stroke-width="1"/>
<g font-size="8" font-weight="bold"><circle cx="677" cy="438" r="6" fill="#111"/><circle cx="673" cy="365" r="6" fill="#111"/><circle cx="662" cy="325" r="6" fill="#111"/><circle cx="698" cy="323" r="6" fill="#111"/>
<text transform="translate(680,441) rotate(-90)" style="fill:#fff">1</text><text transform="translate(676,368) rotate(-90)" style="fill:#fff">2</text><text transform="translate(665,328) rotate(-90)" style="fill:#fff">3</text><text transform="translate(701,326) rotate(-90)" style="fill:#fff">4</text></g>
<!-- heatmap -->
<text transform="translate(588,748) rotate(-90)" font-size="12" textLength="48" lengthAdjust="spacingAndGlyphs">Cell type</text>
<text transform="translate(588,692) rotate(-90)" font-size="11">1</text><text transform="translate(588,665) rotate(-90)" font-size="11">2</text><text transform="translate(588,637) rotate(-90)" font-size="11">3</text><text transform="translate(588,610) rotate(-90)" font-size="11">4</text>
<rect x="593" y="595" width="8" height="25" fill="#4a5590"/><rect x="593" y="620" width="8" height="28" fill="#2c9ac8"/><rect x="593" y="648" width="8" height="27" fill="#e07070"/><rect x="593" y="675" width="8" height="28" fill="#c8d890"/>
<g stroke="#fff" stroke-width="0.8">
<rect x="602" y="595" width="17.5" height="25" fill="#e8b8c0"/><rect x="619.5" y="595" width="17.5" height="25" fill="#5a5aaa"/><rect x="637" y="595" width="17.5" height="25" fill="#e2e0ea"/><rect x="654.5" y="595" width="17.5" height="25" fill="#e8b8c0"/><rect x="672" y="595" width="17.5" height="25" fill="#e06068"/><rect x="689.5" y="595" width="17.5" height="25" fill="#e8b8c0"/><rect x="707" y="595" width="17.5" height="25" fill="#e83030"/><rect x="724.5" y="595" width="17.5" height="25" fill="#e8b8c0"/>
<rect x="602" y="620" width="17.5" height="28" fill="#6a6ab8"/><rect x="619.5" y="620" width="17.5" height="28" fill="#7070b8"/><rect x="637" y="620" width="17.5" height="28" fill="#3a48a8"/><rect x="654.5" y="620" width="17.5" height="28" fill="#e07878"/><rect x="672" y="620" width="17.5" height="28" fill="#6a6ab8"/><rect x="689.5" y="620" width="17.5" height="28" fill="#7070b8"/><rect x="707" y="620" width="17.5" height="28" fill="#6a6ab8"/><rect x="724.5" y="620" width="17.5" height="28" fill="#7070b8"/>
<rect x="602" y="648" width="17.5" height="27" fill="#a8a8d8"/><rect x="619.5" y="648" width="17.5" height="27" fill="#a8a8d8"/><rect x="637" y="648" width="17.5" height="27" fill="#a0a0d0"/><rect x="654.5" y="648" width="17.5" height="27" fill="#a0a0d8"/><rect x="672" y="648" width="17.5" height="27" fill="#e88080"/><rect x="689.5" y="648" width="17.5" height="27" fill="#a8a8d8"/><rect x="707" y="648" width="17.5" height="27" fill="#e8b8c0"/><rect x="724.5" y="648" width="17.5" height="27" fill="#a8a8d8"/>
<rect x="602" y="675" width="17.5" height="28" fill="#e53028"/><rect x="619.5" y="675" width="17.5" height="28" fill="#9898d0"/><rect x="637" y="675" width="17.5" height="28" fill="#e53028"/><rect x="654.5" y="675" width="17.5" height="28" fill="#e53028"/><rect x="672" y="675" width="17.5" height="28" fill="#8080c8"/><rect x="689.5" y="675" width="17.5" height="28" fill="#e53028"/><rect x="707" y="675" width="17.5" height="28" fill="#e53028"/><rect x="724.5" y="675" width="17.5" height="28" fill="#e53028"/>
</g>
<g font-size="11"><text transform="translate(615,590) rotate(-90)">TF1</text><text transform="translate(633,590) rotate(-90)">TF2</text><text transform="translate(650,590) rotate(-90)">TF3</text><text transform="translate(668,590) rotate(-90)">TF4</text><text transform="translate(685,590) rotate(-90)">TF5</text><text transform="translate(703,590) rotate(-90)">TF6</text><text transform="translate(720,590) rotate(-90)">TF7</text><text transform="translate(738,590) rotate(-90)">TF8</text></g>
<text transform="translate(608,562) rotate(-90)" font-size="11.5" textLength="92" lengthAdjust="spacingAndGlyphs">Gene expression</text>
<text transform="translate(628,523) rotate(-90)" font-size="11">High</text>
<text transform="translate(718,525) rotate(-90)" font-size="11">Low</text>
<rect x="620" y="531" width="95" height="17" fill="url(#cb)" stroke="#222"/>
<text transform="translate(757,740) rotate(-90)" font-size="12" textLength="190" lengthAdjust="spacingAndGlyphs">Transcription factor (TF) analysis</text>
</svg>
</body></html>
